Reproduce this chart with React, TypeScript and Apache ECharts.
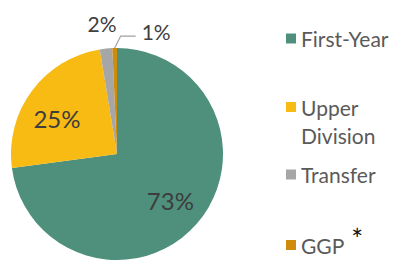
import React, { useEffect, useRef } from "react";
import * as echarts from "echarts";

const categories = ["First-Year", "Upper Division", "Transfer", "GGP"];
const values = [72.9, 24.5, 1.9, 0.7];
const colors = ["#4e907c", "#f7bb14", "#a6a6a6", "#cf8c0c"];
const legendTops = [28, 65, 164, 225];

const FONT = "Lato, 'Open Sans', sans-serif";

export default function App() {
  const ref = useRef<HTMLDivElement>(null);

  useEffect(() => {
    if (!ref.current) return;
    const chart = echarts.init(ref.current, undefined, { renderer: "svg" });
    const data = categories.map((name, i) => ({
      name,
      value: values[i],
      itemStyle: { color: colors[i] },
    }));

    const legends = categories.map((name, i) => {
      const isUpper = i === 1;
      const isGGP = i === 3;
      return {
        orient: "vertical" as const,
        left: 286,
        top: legendTops[i],
        padding: 0,
        itemWidth: 10,
        itemHeight: 10,
        icon: "rect",
        selectedMode: false,
        data: [name],
        formatter: (n: string) =>
          isUpper ? n.replace(" ", "\n") : isGGP ? n + "{s|*}" : n,
        textStyle: {
          fontFamily: FONT,
          fontSize: 21,
          color: "#5a5a5a",
          lineHeight: isUpper ? 28 : 20,
          padding: isUpper ? [28, 0, 0, 0] : 0,
          rich: {
            s: {
              fontFamily: FONT,
              fontSize: 28,
              color: "#111111",
              padding: [0, 0, 12, 7],
            },
          },
        },
      };
    });

    chart.setOption({
      animation: false,
      backgroundColor: "#ffffff",
      legend: legends,
      series: [
        {
          type: "pie",
          center: [117, 154],
          radius: [0, 106],
          startAngle: 90,
          clockwise: true,
          avoidLabelOverlap: false,
          silent: true,
          data: data.map((d, i) => ({
            ...d,
            label: { show: i >= 2 },
            labelLine: {
              show: i >= 2,
              lineStyle: { opacity: i === 3 ? 1 : 0 },
            },
          })),
          label: {
            position: "outside",
            fontFamily: FONT,
            fontSize: 21,
            color: "#404040",
            formatter: (p: any) => Math.round(p.value) + "%",
          },
          labelLine: {
            length: 8,
            length2: 10,
            lineStyle: { color: "#a0a0a0", width: 1.2 },
          },
          labelLayout: (p: any) => {
            const pts = p.labelLinePoints;
            if (!pts) return {};
            const [x0, y0] = pts[0];
            if (p.dataIndex === 3) {
              return {
                x: x0 + 27,
                y: y0 - 17,
                align: "left",
                verticalAlign: "middle",
                labelLinePoints: [
                  [x0, y0],
                  [x0 + 6, y0 - 12],
                  [x0 + 21, y0 - 12],
                ],
              };
            }
            if (p.dataIndex === 2) {
              return {
                x: x0 - 4,
                y: y0 - 25,
                align: "center",
                verticalAlign: "middle",
              };
            }
            return {};
          },
        },
        {
          type: "pie",
          center: [117, 154],
          radius: [30, 106],
          startAngle: 90,
          clockwise: true,
          silent: true,
          legendHoverLink: false,
          avoidLabelOverlap: false,
          itemStyle: { color: "rgba(0,0,0,0)" },
          data: data.map((d, i) => ({
            name: d.name,
            value: d.value,
            itemStyle: { color: "rgba(0,0,0,0)" },
            label: {
              show: i < 2,
              offset: i === 1 ? [-3, 7] : [0, 0],
            },
          })),
          label: {
            position: "inside",
            fontFamily: FONT,
            fontSize: 24,
            color: "#3d3d3d",
            formatter: (p: any) => Math.round(p.value) + "%",
          },
          labelLine: { show: false },
        },
      ],
    });
    return () => chart.dispose();
  }, []);

  return (
    <div
      ref={ref}
      style={{ position: "fixed", left: 0, top: 0, width: 394, height: 260 }}
    />
  );
}
